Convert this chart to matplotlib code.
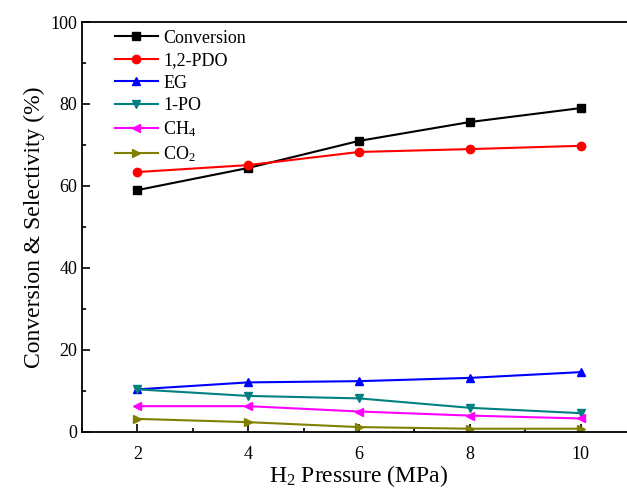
import matplotlib
matplotlib.use('Agg')
import matplotlib.pyplot as plt
from matplotlib.ticker import MultipleLocator

plt.rcParams['font.family'] = 'Liberation Serif'
plt.rcParams['mathtext.fontset'] = 'custom'
plt.rcParams['mathtext.rm'] = 'Liberation Serif'

pressure = [2, 4, 6, 8, 10]
conversion = [59.0, 64.4, 71.0, 75.6, 79.0]
pdo = [63.4, 65.1, 68.3, 69.0, 69.8]
eg = [10.4, 12.1, 12.4, 13.2, 14.6]
po = [10.4, 8.8, 8.2, 5.9, 4.6]
ch4 = [6.3, 6.3, 5.0, 4.0, 3.3]
co2 = [3.2, 2.4, 1.2, 0.8, 0.8]

series = [
    (conversion, 'Conversion', 'black', 's'),
    (pdo, '1,2-PDO', 'red', 'o'),
    (eg, 'EG', 'blue', '^'),
    (po, '1-PO', '#008080', 'v'),
    (ch4, r'CH$\mathregular{_4}$', 'magenta', '<'),
    (co2, r'CO$\mathregular{_2}$', '#808000', '>'),
]

fig = plt.figure(figsize=(6.27, 4.88), dpi=100)
ax = fig.add_axes([82 / 627, 1 - 432 / 488, (636 - 82) / 627, (432 - 22) / 488])

for vals, lab, col, mk in series:
    ax.plot(pressure, vals, color=col, marker=mk, markersize=6, linewidth=1.5, label=lab)

ax.set_xlim(1, 11)
ax.set_ylim(0, 100)
ax.xaxis.set_major_locator(MultipleLocator(2))
ax.xaxis.set_minor_locator(MultipleLocator(1))
ax.yaxis.set_major_locator(MultipleLocator(20))
ax.yaxis.set_minor_locator(MultipleLocator(10))
ax.tick_params(which='both', direction='in', labelsize=13, width=1.2)
ax.tick_params(which='major', length=6)
ax.tick_params(which='minor', length=3)
ax.tick_params(axis='x', which='major', pad=10)
for s in ax.spines.values():
    s.set_linewidth(1.3)

ax.set_xlabel(r'H$\mathregular{_2}$ Pressure (MPa)', fontsize=17, labelpad=0)
ax.set_ylabel('Conversion & Selectivity (%)', fontsize=17)

ax.legend(loc='upper left', frameon=False, fontsize=13, handlelength=2.4,
          handletextpad=0.3, labelspacing=0.3, borderaxespad=0.3,
          bbox_to_anchor=(0.036, 1.012))

fig.savefig('out.png', dpi=100)
